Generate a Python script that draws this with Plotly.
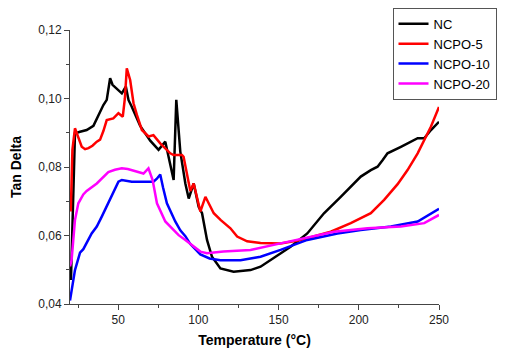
import plotly.graph_objects as go

nc_x = [20.6, 22, 23.1, 26.25, 30.4, 34.6, 36.7, 38.75, 40.8, 42.9, 45, 46.5, 48.1, 52.3, 54.8, 56.5,
        58.5, 63.75, 70, 75.2, 79.4, 82.5, 84.6, 86.25, 88.75, 91.9, 94, 97.1, 100.2, 102.3, 105.4,
        108.5, 113.75, 122, 132.5, 138.75, 145, 157.5, 167.9, 178.3, 188.75, 201.25, 207.5, 211.7,
        214.8, 217.9, 226.25, 236.7, 240.8, 245, 250]
nc_y = [0.047, 0.0674, 0.0898, 0.0903, 0.0908, 0.0920, 0.0940, 0.0960, 0.0981, 0.0996, 0.1059, 0.1040,
        0.1033, 0.1015, 0.1035, 0.0995, 0.0976, 0.0920, 0.0877, 0.0850, 0.0874, 0.0811, 0.0762, 0.0996,
        0.0845, 0.0752, 0.0708, 0.0752, 0.0684, 0.0665, 0.0587, 0.0538, 0.0504, 0.0494, 0.0499, 0.0509,
        0.0528, 0.0567, 0.0606, 0.0665, 0.0713, 0.0772, 0.0791, 0.0801, 0.0820, 0.0840, 0.0859, 0.0884,
        0.0884, 0.0908, 0.0932]

p5_x = [20.5, 21.5, 23.1, 25, 27.3, 29.4, 31.5, 34, 36.7, 38.75, 40.8, 42.9, 47, 50.2, 52.9, 54.2, 55.4,
        57.5, 59.6, 61.7, 64.8, 69, 72, 76.25, 82.5, 84.6, 89.8, 90.8, 95, 97.1, 101.25, 104.4, 109.6,
        114, 120, 124.2, 130.4, 138.75, 151.25, 163.75, 182.5, 195, 207.5, 215.8, 224.2, 230.4, 236.7,
        245, 250]
p5_y = [0.067, 0.085, 0.0913, 0.0890, 0.0859, 0.0852, 0.0855, 0.0862, 0.0874, 0.0880, 0.0905, 0.0937,
        0.0942, 0.0957, 0.0947, 0.1000, 0.1088, 0.1054, 0.0986, 0.0952, 0.0908, 0.0889, 0.0893, 0.0869,
        0.0840, 0.0835, 0.0835, 0.0830, 0.0730, 0.0752, 0.0670, 0.0713, 0.0665, 0.0645, 0.0621, 0.0597,
        0.0583, 0.0578, 0.0577, 0.0587, 0.0611, 0.0636, 0.0665, 0.0704, 0.0750, 0.0791, 0.0840, 0.0918,
        0.0975]

p10_x = [20, 23.1, 26.25, 28.3, 33.5, 36.7, 39.8, 46, 50.2, 52.3, 58.5, 66.9, 72, 74, 76.25, 78, 80.4,
         85.6, 88.75, 91.9, 95, 101.25, 107, 113.75, 126.25, 132.5, 138.75, 151.25, 167.9, 186.7, 201.25,
         220, 236.7, 250]
p10_y = [0.0410, 0.0499, 0.0550, 0.0560, 0.0606, 0.0626, 0.0655, 0.0713, 0.0757, 0.0762, 0.0757, 0.0757,
         0.0757, 0.0765, 0.0778, 0.0740, 0.0694, 0.0641, 0.0615, 0.0598, 0.0575, 0.0545, 0.0533, 0.0528,
         0.0528, 0.0533, 0.0538, 0.0558, 0.0587, 0.0606, 0.0616, 0.0626, 0.0641, 0.0678]

p20_x = [20, 21, 23.1, 25.2, 28.3, 30.4, 36.7, 41, 43.9, 48, 52.3, 56, 60.6, 65.8, 68.9, 71.5, 74.2,
         79.4, 87.7, 91.9, 101.25, 105.4, 115.6, 132.5, 151.25, 165.8, 184.6, 205.4, 226.25, 240.8, 250]
p20_y = [0.0510, 0.0528, 0.0645, 0.0694, 0.0720, 0.0730, 0.0752, 0.0770, 0.0785, 0.0792, 0.0796, 0.0794,
         0.0787, 0.0781, 0.0796, 0.0762, 0.0694, 0.0641, 0.0601, 0.0587, 0.0553, 0.0548, 0.0553, 0.0558,
         0.0577, 0.0592, 0.0611, 0.0621, 0.0626, 0.0636, 0.0660]

names = ["NC", "NCPO-5", "NCPO-10", "NCPO-20"]
colors = ["#000000", "#ff0000", "#0000ff", "#ff00ff"]
series = [(nc_x, nc_y), (p5_x, p5_y), (p10_x, p10_y), (p20_x, p20_y)]

fig = go.Figure()
for (xs, ys), n, c in zip(series, names, colors):
    fig.add_trace(go.Scatter(x=xs, y=ys, mode="lines", name=n,
                             line=dict(color=c, width=2.5)))

axis_font = dict(family="Liberation Sans, Arial, sans-serif", size=12, color="#222")
fig.update_layout(
    width=490, height=341,
    margin=dict(l=62, r=59, t=22, b=45, autoexpand=False),
    plot_bgcolor="white", paper_bgcolor="white",
    separators=",.",
    font=dict(family="Liberation Sans, Arial, sans-serif", color="#000"),
    legend=dict(x=0.874, y=1.081, xanchor="left", yanchor="top",
                bordercolor="#555", borderwidth=1, bgcolor="white",
                font=dict(size=13, family="Liberation Sans, Arial, sans-serif", color="#000"),
                tracegroupgap=0, itemwidth=30),
    xaxis=dict(range=[20, 250], dtick=50, tick0=0, showgrid=False, zeroline=False,
               showline=True, linecolor="#444", linewidth=1, ticks="outside", ticklen=5,
               tickcolor="#444", tickfont=axis_font,
               minor=dict(dtick=25, tick0=0, ticks="outside", ticklen=3, tickcolor="#444"),
               title=dict(text="<b>Temperature (°C)</b>", font=dict(size=14, color="#000"), standoff=8)),
    yaxis=dict(range=[0.04, 0.12], dtick=0.02, tick0=0, tickformat=".2f", showgrid=False,
               zeroline=False, showline=True, linecolor="#444", linewidth=1, ticks="outside",
               ticklen=5, tickcolor="#444", tickfont=axis_font,
               minor=dict(dtick=0.01, tick0=0, ticks="outside", ticklen=3, tickcolor="#444"),
               title=dict(text="<b>Tan Delta</b>", font=dict(size=14, color="#000"), standoff=14)),
)
fig.write_html("out.html")
